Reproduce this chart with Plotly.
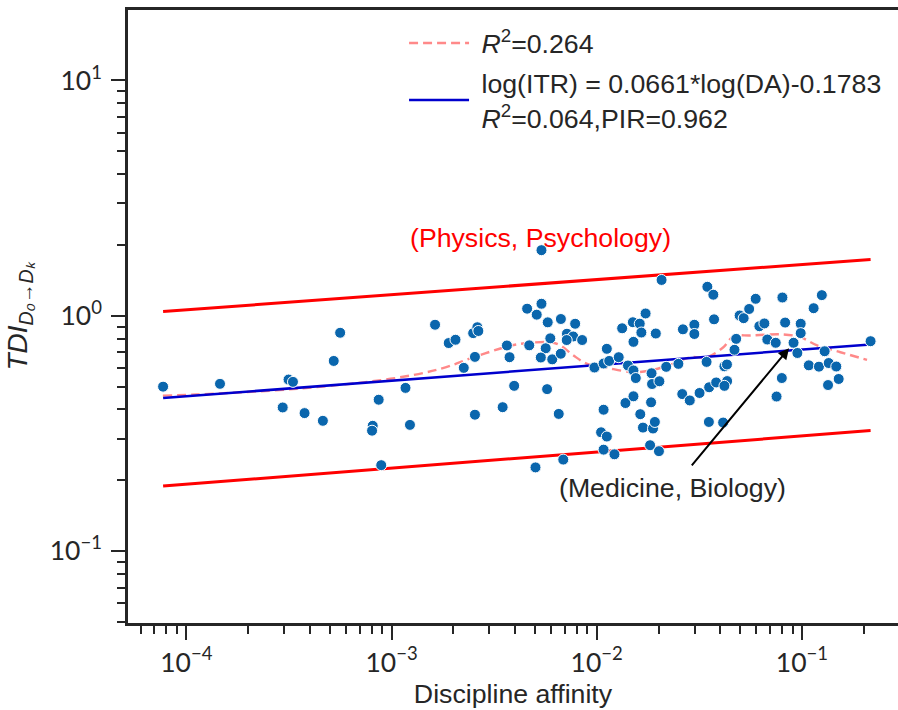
import numpy as np
import plotly.graph_objects as go

# ---- scatter data: discipline affinity (DA) vs TDI ----
da = [7.71e-5, 1.46e-4, 3.15e-4, 3.31e-4, 2.95e-4, 3.77e-4, 4.63e-4, 5.62e-4, 5.23e-4, 8.66e-4,
      8.10e-4, 8.04e-4, 1.23e-3, 1.17e-3, 8.91e-4, 1.63e-3, 1.90e-3, 2.05e-3, 2.55e-3, 2.25e-3,
      2.50e-3, 2.62e-3, 2.65e-3, 2.55e-3, 3.48e-3, 3.96e-3, 3.65e-3, 3.76e-3, 4.58e-3, 5.38e-3,
      5.10e-3, 5.77e-3, 6.69e-3, 7.85e-3, 4.69e-3, 5.64e-3, 5.94e-3, 5.34e-3, 6.07e-3, 6.68e-3,
      7.16e-3, 7.68e-3, 7.14e-3, 8.49e-3, 5.73e-3, 6.53e-3, 9.75e-3, 5.03e-3, 6.87e-3, 5.38e-3,
      1.12e-2, 1.08e-2, 1.15e-2, 1.28e-2, 1.42e-2, 1.51e-2, 1.55e-2, 1.85e-2, 1.86e-2, 2.02e-2,
      2.18e-2, 2.50e-2, 1.33e-2, 1.50e-2, 1.62e-2, 1.65e-2, 1.73e-2, 1.51e-2, 1.94e-2, 2.07e-2,
      1.08e-2, 1.38e-2, 1.51e-2, 1.84e-2, 1.63e-2, 1.68e-2, 1.88e-2, 1.92e-2, 1.05e-2, 1.12e-2,
      1.08e-2, 1.22e-2, 1.82e-2, 2.01e-2, 2.63e-2, 2.99e-2, 2.99e-2, 3.46e-2, 3.70e-2, 3.73e-2,
      3.43e-2, 2.61e-2, 2.84e-2, 3.17e-2, 3.53e-2, 3.82e-2, 4.19e-2, 4.32e-2, 4.19e-2, 3.52e-2,
      4.13e-2, 4.69e-2, 4.78e-2, 4.97e-2, 5.20e-2, 5.53e-2, 5.95e-2, 6.20e-2, 6.56e-2, 8.03e-2,
      8.28e-2, 6.78e-2, 7.45e-2, 9.10e-2, 9.50e-2, 9.86e-2, 9.86e-2, 0.114, 0.125, 0.129,
      0.108, 0.121, 0.135, 0.147, 0.151, 0.134, 7.98e-2, 7.52e-2, 0.216, 4.31e-2]
tdi = [0.500, 0.514, 0.536, 0.524, 0.408, 0.386, 0.358, 0.847, 0.643, 0.440,
       0.341, 0.325, 0.344, 0.494, 0.232, 0.916, 0.766, 0.791, 0.669, 0.601,
       0.844, 0.894, 0.862, 0.380, 0.409, 0.504, 0.748, 0.667, 1.072, 1.125,
       1.011, 0.938, 0.969, 0.925, 0.749, 0.728, 0.802, 0.665, 0.653, 0.690,
       0.839, 0.817, 0.789, 0.789, 0.488, 0.383, 0.603, 0.227, 0.245, 1.900,
       0.724, 0.627, 0.643, 0.667, 0.615, 0.586, 0.544, 0.570, 0.513, 0.527,
       0.607, 0.625, 0.885, 0.939, 0.926, 0.849, 1.023, 0.775, 0.841, 1.420,
       0.399, 0.426, 0.455, 0.429, 0.382, 0.335, 0.332, 0.354, 0.320, 0.307,
       0.270, 0.258, 0.282, 0.266, 0.876, 0.916, 0.837, 1.328, 1.229, 0.966,
       0.637, 0.465, 0.437, 0.470, 0.497, 0.521, 0.610, 0.528, 0.504, 0.354,
       0.352, 0.717, 0.798, 1.003, 0.977, 1.069, 1.181, 0.903, 0.928, 1.196,
       0.936, 0.793, 0.768, 0.768, 0.695, 0.925, 0.844, 1.077, 1.224, 0.707,
       0.616, 0.608, 0.630, 0.609, 0.539, 0.508, 0.544, 0.454, 0.780, 0.621]

# ---- smoothed (dashed) curve ----
smooth_x = [7.69e-5, 1.13e-4, 3.47e-4, 9.89e-4, 1.73e-3, 2.52e-3, 3.66e-3, 4.40e-3, 5.95e-3,
            6.66e-3, 7.71e-3, 8.98e-3, 1.12e-2, 1.51e-2, 1.83e-2, 2.37e-2, 2.86e-2, 3.45e-2,
            4.14e-2, 4.63e-2, 5.61e-2, 8.12e-2, 9.84e-2, 0.1186, 0.154, 0.2075]
smooth_y = [0.458, 0.463, 0.490, 0.540, 0.595, 0.667, 0.740, 0.763, 0.772,
            0.748, 0.678, 0.625, 0.601, 0.576, 0.586, 0.627, 0.667, 0.667,
            0.735, 0.817, 0.825, 0.833, 0.811, 0.748, 0.700, 0.650]

# ---- fit line (ln ITR = a ln DA + b) and prediction band ----
fit_a, fit_b = 0.0661, -0.1783
line_x = [7.71e-5, 0.216]
band_upper = [1.043, 1.735]
band_lower = [0.189, 0.3255]

# ---- annotations ----
label_phys = "(Physics, Psychology)"
label_phys_pos = (5.35e-3, 2.15)
label_med = "(Medicine, Biology)"
label_med_pos = (2.34e-2, 0.186)
med_point = (0.091, 0.768)

x_major = [1e-4, 1e-3, 1e-2, 1e-1]
x_major_text = ["10<sup>\u22124</sup>", "10<sup>\u22123</sup>", "10<sup>\u22122</sup>", "10<sup>\u22121</sup>"]
y_major = [0.1, 1, 10]
y_major_text = ["10<sup>\u22121</sup>", "10<sup>0</sup>", "10<sup>1</sup>"]

x_minor = [m * 10.0 ** e for e in range(-5, 0) for m in range(2, 10)]
x_minor = [v for v in x_minor if 5.2e-5 < v < 0.29]
y_minor = [m * 10.0 ** e for e in range(-2, 2) for m in range(2, 10)]
y_minor = [v for v in y_minor if 0.0496 < v < 19.9]

fit_x = np.array(line_x)
fit_y = np.exp(fit_a * np.log(fit_x) + fit_b)

INK = "#262626"
FS = 26.7
NB = "\u00a0"
fig = go.Figure()

fig.add_trace(go.Scatter(x=line_x, y=band_upper, mode="lines",
                         line=dict(color="#ff0000", width=3), showlegend=False, hoverinfo="skip"))
fig.add_trace(go.Scatter(x=line_x, y=band_lower, mode="lines",
                         line=dict(color="#ff0000", width=3), showlegend=False, hoverinfo="skip"))
fig.add_trace(go.Scatter(x=smooth_x, y=smooth_y, mode="lines", legendgroup="a",
                         line=dict(color="rgba(255,40,40,0.55)", width=2.4, dash="9px,5px", shape="spline"),
                         name=NB + "<i>R</i><sup>2</sup>=0.264"))
fig.add_trace(go.Scatter(x=fit_x, y=fit_y, mode="lines", legendgroup="b",
                         line=dict(color="#0000cd", width=2.5),
                         name=NB + "log(ITR) = 0.0661*log(DA)-0.1783<br>" + NB + "<i>R</i><sup>2</sup>=0.064,PIR=0.962"))
fig.add_trace(go.Scatter(x=da, y=tdi, mode="markers",
                         marker=dict(size=11, color="#0a66ad", line=dict(color="white", width=1)),
                         showlegend=False))

fig.add_annotation(x=np.log10(label_phys_pos[0]), y=np.log10(label_phys_pos[1]), text=label_phys,
                   showarrow=False, font=dict(family="Liberation Sans", size=FS, color="#ff0000"),
                   xanchor="center", yanchor="middle")
fig.add_annotation(x=np.log10(label_med_pos[0]), y=np.log10(label_med_pos[1]), text=label_med,
                   showarrow=False, font=dict(family="Liberation Sans", size=FS, color=INK),
                   xanchor="center", yanchor="middle")
fig.add_annotation(x=np.log10(med_point[0]), y=np.log10(med_point[1]), text="",
                   showarrow=True, ax=-103, ay=124, arrowhead=2, arrowsize=1.1, arrowwidth=2,
                   arrowcolor="black", standoff=7)

fig.update_xaxes(type="log", range=[-4.284, -0.532],
                 tickmode="array", tickvals=x_major, ticktext=x_major_text,
                 ticks="outside", ticklen=14, tickwidth=2, tickcolor=INK,
                 minor=dict(tickmode="array", tickvals=x_minor, ticks="outside", ticklen=8,
                            tickwidth=1.5, tickcolor=INK, showgrid=False),
                 showline=True, linecolor=INK, linewidth=2.5, mirror=True,
                 showgrid=False, zeroline=False,
                 tickfont=dict(family="Lato", size=26.5, color=INK),
                 title=dict(text="Discipline affinity", standoff=8,
                            font=dict(family="Liberation Sans", size=FS, color=INK)))
fig.update_yaxes(type="log", range=[-1.305, 1.299],
                 tickmode="array", tickvals=y_major, ticktext=y_major_text,
                 ticks="outside", ticklen=14, tickwidth=2, tickcolor=INK,
                 minor=dict(tickmode="array", tickvals=y_minor, ticks="outside", ticklen=8,
                            tickwidth=1.5, tickcolor=INK, showgrid=False),
                 showline=True, linecolor=INK, linewidth=2.5, mirror=False,
                 showgrid=False, zeroline=False, ticklabelstandoff=4,
                 tickfont=dict(family="Lato", size=26.5, color=INK),
                 title=dict(text="<i>TDI</i><sub><i>D\u2080\u2192D\u2096</i></sub>", standoff=14,
                            font=dict(family="Liberation Sans", size=28, color=INK)))

fig.update_layout(
    width=898, height=710,
    margin=dict(l=128, r=0, t=10, b=87),
    paper_bgcolor="white", plot_bgcolor="white",
    showlegend=True,
    legend=dict(x=0.3585, y=0.985, xanchor="left", yanchor="top",
                bgcolor="rgba(0,0,0,0)", borderwidth=0,
                font=dict(family="Liberation Sans", size=FS, color=INK),
                itemwidth=60, tracegroupgap=2),
)

fig.write_html("out.html")
